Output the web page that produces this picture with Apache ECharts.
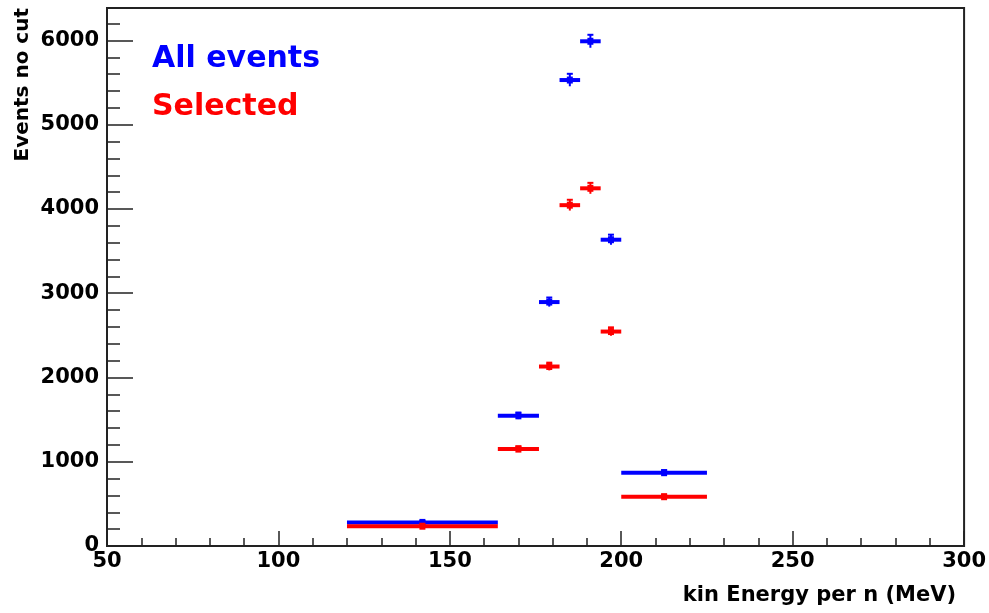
<!DOCTYPE html>
<html>
<head>
<meta charset="utf-8">
<script src="https://cdn.jsdelivr.net/npm/echarts@6/dist/echarts.min.js"></script>
<style>
  html, body { margin: 0; padding: 0; background: #fff; }
  #chart { width: 989px; height: 613px; }
</style>
</head>
<body>
<div id="chart"></div>
<script>
// bins (kin Energy per n, MeV)
const binLow = [120, 164, 176, 182, 188, 194, 200];
const binHigh = [164, 176, 182, 188, 194, 200, 225];
const binCenter = [142, 170, 179, 185, 191, 197, 212.5];

// All events
const allEvents = [280, 1545, 2895, 5530, 5990, 3635, 870];
const allErr = [17, 39, 54, 74, 77, 60, 30];

// Selected
const selected = [235, 1150, 2130, 4045, 4245, 2545, 585];
const selErr = [15, 34, 46, 64, 65, 50, 24];

const xTicks = [50, 100, 150, 200, 250, 300];
const yMax = 6385;

const font = 'DejaVu Sans';

function toData(vals, errs) {
    return vals.map((v, i) => [binCenter[i], v, binLow[i], binHigh[i], errs[i]]);
}

// horizontal bin bar + vertical error bar + marker
function renderItem(params, api) {
    const lo = api.coord([api.value(2), api.value(1)]);
    const hi = api.coord([api.value(3), api.value(1)]);
    const c = api.coord([api.value(0), api.value(1)]);
    const top = api.coord([api.value(0), api.value(1) + api.value(4)]);
    const bot = api.coord([api.value(0), api.value(1) - api.value(4)]);
    const color = api.visual('color');
    return {
        type: 'group',
        children: [
            { type: 'line', shape: { x1: lo[0], y1: lo[1], x2: hi[0], y2: hi[1] }, style: { stroke: color, lineWidth: 4 } },
            { type: 'line', shape: { x1: c[0], y1: top[1], x2: c[0], y2: bot[1] }, style: { stroke: color, lineWidth: 2 } },
            { type: 'line', shape: { x1: c[0] - 3, y1: top[1], x2: c[0] + 3, y2: top[1] }, style: { stroke: color, lineWidth: 2 } },
            { type: 'rect', shape: { x: c[0] - 3, y: c[1] - 3.5, width: 6, height: 7 }, style: { fill: color } }
        ]
    };
}

const myChart = echarts.init(document.getElementById('chart'));
const option = {
    animation: false,
    grid: {
        left: 107, right: 22, top: 8, bottom: 67,
        show: true, borderColor: '#222', borderWidth: 2
    },
    xAxis: {
        type: 'value',
        min: xTicks[0],
        max: xTicks[xTicks.length - 1],
        interval: 50,
        axisLine: { show: true, onZero: false, lineStyle: { color: '#222', width: 2 } },
        axisTick: { show: true, inside: true, length: 15, lineStyle: { color: '#222', width: 1.5 } },
        minorTick: { show: true, splitNumber: 5, length: 8, lineStyle: { color: '#222', width: 1.5 } },
        splitLine: { show: false },
        axisLabel: { color: '#000', fontFamily: font, fontWeight: 'bold', fontSize: 21, margin: 5 }
    },
    yAxis: [
        {
            type: 'value',
            min: 0,
            max: yMax,
            interval: 1000,
            axisLine: { show: true, lineStyle: { color: '#222', width: 2 } },
            axisTick: { show: true, inside: true, length: 26, lineStyle: { color: '#222', width: 1.5 } },
            splitLine: { show: false },
            axisLabel: {
                color: '#000', fontFamily: font, fontWeight: 'bold', fontSize: 21, margin: 8,
                formatter: v => (v % 1000 === 0 ? String(v) : '')
            }
        },
        {
            type: 'value',
            position: 'left',
            min: 0,
            max: yMax,
            interval: 200,
            axisLine: { show: false },
            axisTick: { show: true, inside: true, length: 13, lineStyle: { color: '#222', width: 1.5 } },
            splitLine: { show: false },
            axisLabel: { show: false }
        }
    ],
    graphic: [
        {
            type: 'text', x: 152, y: 44,
            style: { text: 'All events', fill: '#0000ff', font: 'bold 30px "DejaVu Sans"' }
        },
        {
            type: 'text', x: 152, y: 92,
            style: { text: 'Selected', fill: '#ff0000', font: 'bold 30px "DejaVu Sans"' }
        },
        {
            type: 'text', x: 956, y: 596,
            style: { text: 'kin Energy per n (MeV)', fill: '#000', font: 'bold 21px "DejaVu Sans"', align: 'right', verticalAlign: 'middle' }
        },
        {
            type: 'text', x: 23, y: 8, rotation: Math.PI / 2,
            style: { text: 'Events no cut', fill: '#000', font: 'bold 20px "DejaVu Sans"', align: 'right', verticalAlign: 'middle' }
        }
    ],
    series: [
        {
            name: 'All events',
            type: 'custom',
            renderItem: renderItem,
            itemStyle: { color: '#0000ff' },
            encode: { x: [2, 3], y: 1 },
            data: toData(allEvents, allErr)
        },
        {
            name: 'Selected',
            type: 'custom',
            renderItem: renderItem,
            itemStyle: { color: '#ff0000' },
            encode: { x: [2, 3], y: 1 },
            data: toData(selected, selErr)
        }
    ]
};
myChart.setOption(option);
window.addEventListener('resize', function () {
    myChart.resize();
});
</script>
</body>
</html>
